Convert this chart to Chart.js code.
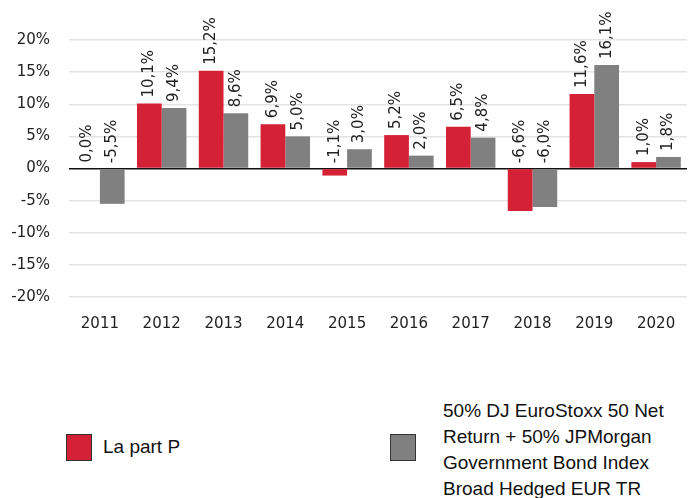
<!DOCTYPE html>
<html>
<head>
<meta charset="utf-8">
<script src="https://cdn.jsdelivr.net/npm/chart.js@4/dist/chart.umd.min.js"></script>
<style>
  html, body { margin: 0; padding: 0; background: #fff; overflow: hidden; }
  #wrap { position: relative; width: 693px; height: 498px; }
  #chart { position: absolute; left: 0; top: 0; }
  .box { position: absolute; width: 24px; height: 25px; border: 1px solid #333; }
  .lbl { position: absolute; font-family: "Liberation Sans", Arial, sans-serif; font-size: 19px; color: #111; line-height: 26px; }
</style>
</head>
<body>
<div id="wrap">
  <canvas id="chart" width="693" height="351"></canvas>
  <div class="box" style="left:66px; top:434px; background:#d52136;"></div>
  <div class="lbl" style="left:103px; top:434px;">La part P</div>
  <div class="box" style="left:390px; top:434px; background:#808080;"></div>
  <div class="lbl" style="left:443px; top:398px;">50% DJ EuroStoxx 50 Net<br>Return + 50% JPMorgan<br>Government Bond Index<br>Broad Hedged EUR TR</div>
</div>
<script>
  var years = ['2011', '2012', '2013', '2014', '2015', '2016', '2017', '2018', '2019', '2020'];
  var partP = [0.0, 10.1, 15.2, 6.9, -1.1, 5.2, 6.5, -6.6, 11.6, 1.0];
  var benchmark = [-5.5, 9.4, 8.6, 5.0, 3.0, 2.0, 4.8, -6.0, 16.1, 1.8];
  var seriesNames = ['La part P', '50% DJ EuroStoxx 50 Net Return + 50% JPMorgan Government Bond Index Broad Hedged EUR TR'];

  function fmt(v) {
    return v.toFixed(1).replace('.', ',') + '%';
  }

  // rotated value labels above each bar (negatives sit on the zero line)
  var valueLabels = {
    id: 'valueLabels',
    afterDatasetsDraw: function (chart) {
      var ctx = chart.ctx;
      ctx.save();
      ctx.font = '15px "DejaVu Sans"';
      ctx.fillStyle = '#222';
      ctx.textAlign = 'left';
      ctx.textBaseline = 'middle';
      chart.data.datasets.forEach(function (ds, i) {
        var meta = chart.getDatasetMeta(i);
        meta.data.forEach(function (bar, j) {
          var y = Math.min(bar.y, bar.base) - 6;
          ctx.save();
          ctx.translate(bar.x, y);
          ctx.rotate(-Math.PI / 2);
          ctx.fillText(fmt(ds.data[j]), 0, 0);
          ctx.restore();
        });
      });
      ctx.restore();
    }
  };

  var chart = new Chart(document.getElementById('chart'), {
    type: 'bar',
    data: {
      labels: years,
      datasets: [
        { label: seriesNames[0], data: partP, backgroundColor: '#d52136', barPercentage: 1, categoryPercentage: 0.8 },
        { label: seriesNames[1], data: benchmark, backgroundColor: '#808080', barPercentage: 1, categoryPercentage: 0.8 }
      ]
    },
    options: {
      responsive: false,
      animation: false,
      layout: { padding: { left: 0, right: 6, top: 40, bottom: 8 } },
      plugins: {
        legend: { display: false },
        tooltip: { enabled: false }
      },
      scales: {
        x: {
          grid: { display: false },
          border: { display: false },
          ticks: { color: '#222', font: { family: '"DejaVu Sans"', size: 15 }, padding: 10, maxRotation: 0 }
        },
        y: {
          min: -20,
          max: 20,
          border: { display: false },
          afterFit: function (scale) { scale.width = 69; },
          grid: {
            drawTicks: false,
            lineWidth: 1.5,
            color: function (c) { return c.tick.value === 0 ? '#111' : '#e3e3e3'; }
          },
          ticks: {
            stepSize: 5,
            padding: 19,
            color: '#222',
            font: { family: '"DejaVu Sans"', size: 15 },
            callback: function (v) { return v + '%'; }
          }
        }
      }
    },
    plugins: [valueLabels]
  });
</script>
</body>
</html>
